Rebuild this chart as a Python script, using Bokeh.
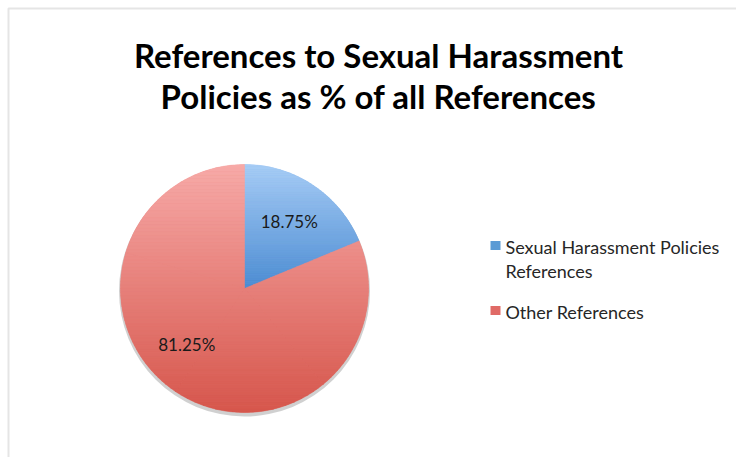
import math
from bokeh.plotting import figure
from bokeh.models import ColumnDataSource, BoxAnnotation
from bokeh.core.properties import value
from bokeh.embed import file_html
from bokeh.resources import INLINE

# ---- data ----
categories = ["Sexual Harassment Policies References", "Other References"]
legend_lines = [["Sexual Harassment Policies", "References"], ["Other References"]]
values = [18.75, 81.25]
labels = ["18.75%", "81.25%"]
title_lines = ["References to Sexual Harassment", "Policies as % of all References"]

# ---- style ----
W, H = 736, 457
top_colors = [(168, 205, 246), (247, 170, 168)]
bot_colors = [(76, 140, 210), (214, 86, 76)]
legend_colors = ["#5b9bd5", "#e06a66"]
label_angle_shift_deg = [0, -12]
FONT = "Lato"

def px(y):  # screen y -> data y
    return H - y

cx, cy, R = 244, px(288), 124

p = figure(width=W, height=H, x_range=(0, W), y_range=(0, H),
           output_backend="svg", toolbar_location=None, min_border=0)
p.axis.visible = False
p.grid.visible = False
p.outline_line_color = None
p.background_fill_color = "white"
p.border_fill_color = "white"

# frame border (left + top)
p.add_layout(BoxAnnotation(left=8, right=W + 20, bottom=-20, top=px(8),
                           fill_color=None, line_color="#a8a8a8", line_width=2))

# angles
total = sum(values)
starts, ends = [], []
a = math.pi / 2
for v in values:
    starts.append(a)
    a = a - 2 * math.pi * v / total
    ends.append(a)

def hexc(c):
    return "#%02x%02x%02x" % tuple(int(round(t)) for t in c)

# shadow
p.circle(x=[cx], y=[cy - 2.5], radius=R + 1.5, fill_color="#555555", fill_alpha=0.28,
         line_color=None)

# base wedges
mid_cols = [hexc([(t + b) / 2 for t, b in zip(top_colors[i], bot_colors[i])]) for i in range(len(values))]
src = ColumnDataSource(dict(x=[cx] * len(values), y=[cy] * len(values), start=starts, end=ends,
                            color=mid_cols, cat=categories))
p.wedge(x="x", y="y", radius=R, start_angle="start", end_angle="end", direction="clock",
        fill_color="color", line_color=None, source=src)

# gradient overlay via horizontal bands (slice split into convex sub-wedges)
def wedge_poly(a0, a1, n=80):
    pts = [(cx, cy)]
    for k in range(n + 1):
        t = a0 + (a1 - a0) * k / n
        pts.append((cx + R * math.cos(t), cy + R * math.sin(t)))
    return pts

def clip(poly, yv, keep_above):
    out = []
    m = len(poly)
    for i in range(m):
        P, Q = poly[i], poly[(i + 1) % m]
        inP = P[1] >= yv if keep_above else P[1] <= yv
        inQ = Q[1] >= yv if keep_above else Q[1] <= yv
        if inP:
            out.append(P)
        if inP != inQ:
            t = (yv - P[1]) / (Q[1] - P[1])
            out.append((P[0] + t * (Q[0] - P[0]), yv))
    return out

NB = 70
bxs, bys, bcols = [], [], []
for i in range(len(values)):
    nsub = max(1, int(math.ceil((starts[i] - ends[i]) / (math.pi / 2))))
    subs = [wedge_poly(starts[i] + (ends[i] - starts[i]) * s / nsub,
                       starts[i] + (ends[i] - starts[i]) * (s + 1) / nsub) for s in range(nsub)]
    allpts = [q for sp in subs for q in sp]
    ytop = max(q[1] for q in allpts)
    ybot = min(q[1] for q in allpts)
    for b in range(NB):
        y_hi = ytop - (ytop - ybot) * b / NB
        y_lo = ytop - (ytop - ybot) * (b + 1) / NB
        f = (b + 0.5) / NB
        col = hexc([top_colors[i][k] + (bot_colors[i][k] - top_colors[i][k]) * f for k in range(3)])
        for sp in subs:
            c = clip(clip(sp, y_lo, True), y_hi, False)
            if len(c) < 3:
                continue
            bxs.append([q[0] for q in c])
            bys.append([q[1] for q in c])
            bcols.append(col)
p.patches(xs=bxs, ys=bys, fill_color=bcols, line_color=bcols, line_width=0.5)

# data labels
lx, ly = [], []
for i in range(len(values)):
    mid = (starts[i] + ends[i]) / 2 + math.radians(label_angle_shift_deg[i])
    lx.append(cx + 0.65 * R * math.cos(mid))
    ly.append(cy + 0.65 * R * math.sin(mid))
p.text(x=lx, y=ly, text=labels, text_font=value(FONT), text_font_size="17px",
       text_color="#1a1a1a", text_align="center", text_baseline="middle")

# title
p.text(x=[378, 378], y=[px(54), px(95)], text=title_lines, text_font=value(FONT),
       text_font_size="33px", text_font_style="bold", text_color="#000000",
       text_align="center", text_baseline="middle")

# legend
leg_y = [px(245), px(310)]
p.rect(x=[495] * 2, y=leg_y, width=10, height=9, fill_color=legend_colors, line_color=None)
tx, ty, tt = [], [], []
for i, lines in enumerate(legend_lines):
    for j, s in enumerate(lines):
        tx.append(505)
        ty.append(leg_y[i] - 1 - 24 * j)
        tt.append(s)
p.text(x=tx, y=ty, text=tt, text_font=value(FONT), text_font_size="18px",
       text_color="#262626", text_align="left", text_baseline="middle")

open("out.html", "w").write(file_html(p, INLINE))
